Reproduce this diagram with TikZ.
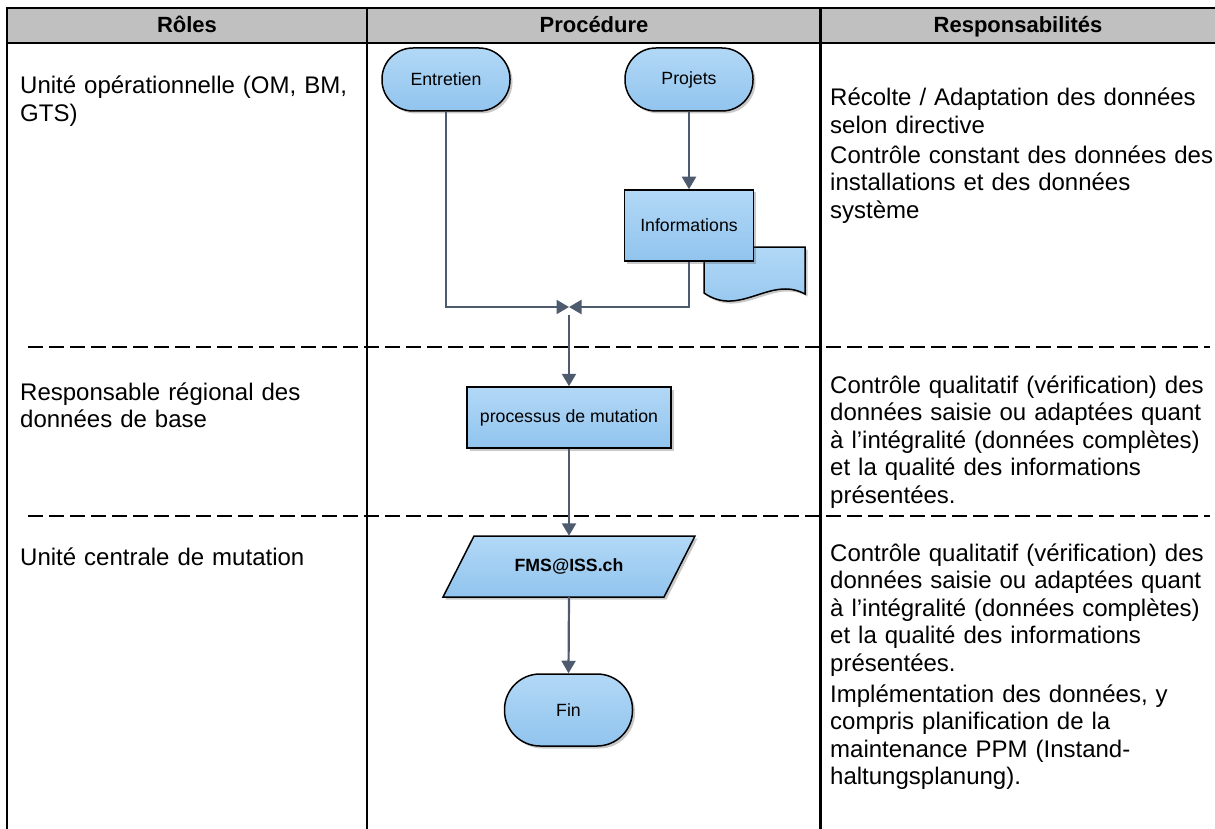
\documentclass[tikz,border=0pt]{standalone}
\usepackage{fontspec}
\setmainfont{Liberation Sans}
\usetikzlibrary{arrows.meta,shadows}
\definecolor{connc}{RGB}{78,90,110}
\definecolor{hdr}{RGB}{192,192,192}
\definecolor{bluetop}{RGB}{178,216,246}
\definecolor{bluebot}{RGB}{145,196,238}
\tikzset{
  flow/.style={draw=black, line width=1.5pt, top color=bluetop, bottom color=bluebot,
     drop shadow={shadow xshift=2.5pt, shadow yshift=-2.5pt, opacity=0.3, fill=black!70}},
  nodefont/.style={font=\fontsize{17.7}{20}\selectfont},
  term/.style={flow, nodefont, inner sep=0pt, minimum width=128pt, minimum height=63pt, rounded corners=31pt},
  procbox/.style={flow, nodefont, inner sep=0pt, rectangle, minimum width=204pt, minimum height=61pt},
  conn/.style={draw=connc, line width=2.2pt},
  arr/.style={conn, -{Triangle[length=12.5pt,width=14pt]}},
  cell/.style={anchor=base west, inner sep=0pt, align=left, font=\fontsize{24}{27.6}\selectfont},
  hdrtext/.style={anchor=base, font=\bfseries\fontsize{22}{26}\selectfont, inner sep=0pt},
  lane/.style={line width=2pt, dash pattern=on 15pt off 6pt},
  tablerule/.style={line width=2.4pt}
}
\begin{document}
\begin{tikzpicture}[x=1pt,y=-1pt]
\useasboundingbox (0,0) rectangle (1215,829);
% header
\fill[hdr] (8,8) rectangle (1215,43);
\draw[tablerule] (6,8) -- (1215,8);
\draw[tablerule] (6,43) -- (1215,43);
\draw[tablerule] (7,7) -- (7,829);
\draw[tablerule] (367,8) -- (367,829);
\draw[tablerule] (820.5,8) -- (820.5,829);
\node[hdrtext] (h1) at (187,33) {Rôles};
\node[hdrtext] (h2) at (594,33) {Procédure};
\node[hdrtext] (h3) at (1018,33) {Responsabilités};
% lane separators
\draw[lane] (28,347) -- (1210,347);
\draw[lane] (28,515.5) -- (1210,515.5);
% role texts
\node[cell, text width=345pt] (r1) at (20,94) {Unité opérationnelle (OM, BM,\\GTS)};
\node[cell, text width=345pt] (r2) at (20,400) {Responsable régional des\\données de base};
\node[cell, text width=345pt] (r3) at (20,565) {Unité centrale de mutation};
% responsibilities
\node[cell, text width=385pt] (s1) at (830,106) {Récolte / Adaptation des données\\selon directive\\[2pt]Contrôle constant des données des\\installations et des données\\système};
\node[cell, text width=385pt] (s2) at (830,393) {Contrôle qualitatif (vérification) des\\données saisie ou adaptées quant\\à l’intégralité (données complètes)\\et la qualité des informations\\présentées.};
\node[cell, text width=385pt] (s3) at (830,561) {Contrôle qualitatif (vérification) des\\données saisie ou adaptées quant\\à l’intégralité (données complètes)\\et la qualité des informations\\présentées.\\[3pt]Implémentation des données, y\\compris planification de la\\maintenance PPM (Instand-\\haltungsplanung).};
% flowchart
\node[term] (entretien) at (446,79.5) {Entretien};
\node[term] (projets) at (689,79.5) {Projets};
\path[flow] (704,247) -- (805,247) -- (805,294) .. controls (770,275) and (740,318) .. (704,293) -- cycle;
\node[procbox, minimum width=129pt, minimum height=71pt] (info) at (689,225.5) {Informations};
\node[procbox] (mut) at (569,417.5) {processus de mutation};
\path[flow] (443,597) -- (474,536) -- (695,536) -- (664,597) -- cycle;
\node[font=\bfseries\fontsize{17.7}{20}\selectfont, inner sep=0pt, minimum width=221pt, minimum height=61pt] (fms) at (569,566.5) {FMS@ISS.ch};
\node[term, minimum height=72pt, rounded corners=35.5pt] (fin) at (568.5,710) {Fin};
% connectors
\coordinate (j) at (569,307);
\coordinate (jb) at (569,315);
\draw[arr] (entretien.south) |- (j);
\draw[arr] (info.south) |- (j);
\draw[arr] (projets.south) -- (info.north);
\draw[arr] (jb) -- (mut.north);
\draw[arr] (mut.south) -- (fms.north);
\draw[arr] (fms.south) -- (fin.north);
\end{tikzpicture}
\end{document}
